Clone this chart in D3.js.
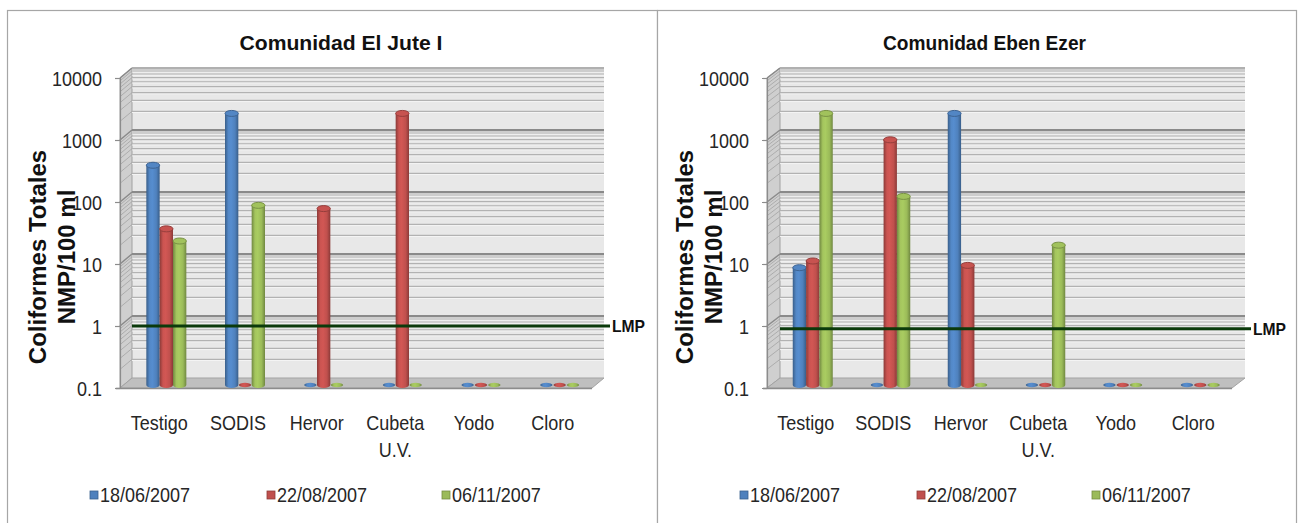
<!DOCTYPE html>
<html>
<head>
<meta charset="utf-8">
<script src="https://cdn.jsdelivr.net/npm/d3@7/dist/d3.min.js"></script>
<style>
  html, body { margin: 0; padding: 0; background: #fff; }
  svg { display: block; font-family: "Liberation Sans", Arial, sans-serif; }
</style>
</head>
<body>
<svg id="chart" width="1300" height="523"></svg>
<script>
// Treatment categories along the x axis
const categories = ["Testigo", "SODIS", "Hervor", "Cubeta U.V.", "Yodo", "Cloro"];
// Sampling dates (series)
const seriesNames = ["18/06/2007", "22/08/2007", "06/11/2007"];
// Total coliforms, NMP/100 ml — Comunidad El Jute I (0 = not detected)
const juteJun = [350, 2400, 0, 0, 0, 0];
const juteAug = [33, 0, 70, 2400, 0, 0];
const juteNov = [21, 79, 0, 0, 0, 0];
// Total coliforms, NMP/100 ml — Comunidad Eben Ezer
const ebenJun = [7.8, 0, 2400, 0, 0, 0];
const ebenAug = [10, 900, 8.5, 0, 0, 0];
const ebenNov = [2400, 110, 0, 18, 0, 0];
// Log axis ticks
const yTicks = [0.1, 1, 10, 100, 1000, 10000];
// Maximum permitted limit line per community
const lmpValues = [1, 0.9];
const chartTitles = ["Comunidad El Jute I", "Comunidad Eben Ezer"];

const seriesColors = ["#4f81bd", "#c0504d", "#9bbb59"];

const svg = d3.select("#chart");
const defs = svg.append("defs");

// Cylinder shading gradients
seriesColors.forEach((c, i) => {
  const base = d3.color(c);
  const g = defs.append("linearGradient").attr("id", "cyl" + i)
    .attr("x1", 0).attr("x2", 1).attr("y1", 0).attr("y2", 0);
  g.append("stop").attr("offset", "0%").attr("stop-color", base.darker(0.9));
  g.append("stop").attr("offset", "25%").attr("stop-color", base.brighter(0.15));
  g.append("stop").attr("offset", "45%").attr("stop-color", base.brighter(0.25));
  g.append("stop").attr("offset", "75%").attr("stop-color", base);
  g.append("stop").attr("offset", "100%").attr("stop-color", base.darker(0.9));
});

const panels = [
  { x0: 7, x1: 657, fx: 120, w: 472, dx: 12, title: chartTitles[0], series: [juteJun, juteAug, juteNov], lmp: lmpValues[0] },
  { x0: 657, x1: 1296, fx: 767, w: 465, dx: 13, title: chartTitles[1], series: [ebenJun, ebenAug, ebenNov], lmp: lmpValues[1] }
];

const DY = -10;          // depth shift of the back wall
const BAR_DX = 7, BAR_DY = -3;   // depth position of the columns
const NARROW = 0.9;      // horizontal squeeze of the label font

panels.forEach((p) => {
  const g = svg.append("g");

  // panel frame
  g.append("rect").attr("x", p.x0 + 0.5).attr("y", 10.5)
    .attr("width", p.x1 - p.x0).attr("height", 530)
    .attr("fill", "#fff").attr("stroke", "#a6a6a6").attr("stroke-width", 1.2);

  const y = d3.scaleLog().domain([0.1, 10000]).range([388, 78]);
  const x = d3.scaleBand().domain(categories).range([p.fx, p.fx + p.w]);
  const xs = d3.scaleBand().domain(seriesNames).range([-20, 20]);

  const bx0 = p.fx + p.dx, bx1 = p.fx + p.w + p.dx;
  const yTop = y(10000), yBot = y(0.1);

  // back wall
  g.append("rect").attr("x", bx0).attr("y", yTop + DY)
    .attr("width", p.w).attr("height", yBot - yTop).attr("fill", "#e8e8e8");

  // side wall
  g.append("path")
    .attr("d", `M${p.fx},${yTop}L${bx0},${yTop + DY}L${bx0},${yBot + DY}L${p.fx},${yBot}Z`)
    .attr("fill", "#cfcfcf").attr("stroke", "#a0a0a0").attr("stroke-width", 1);

  // gridlines: minor (2..9) and major (decades)
  const minor = [];
  [0.1, 1, 10, 100, 1000].forEach(d => { for (let k = 2; k <= 9; k++) minor.push(d * k); });
  const grid = g.append("g");
  minor.forEach(v => {
    const yy = y(v);
    grid.append("line").attr("x1", bx0).attr("x2", bx1).attr("y1", yy + DY + 1.2).attr("y2", yy + DY + 1.2)
      .attr("stroke", "#f4f4f4").attr("stroke-width", 1);
    grid.append("line").attr("x1", bx0).attr("x2", bx1).attr("y1", yy + DY).attr("y2", yy + DY)
      .attr("stroke", "#b2b2b2").attr("stroke-width", 1.1);
    grid.append("line").attr("x1", p.fx).attr("x2", bx0).attr("y1", yy).attr("y2", yy + DY)
      .attr("stroke", "#a8a8a8").attr("stroke-width", 0.9);
  });
  yTicks.slice(1).forEach(v => {
    const yy = y(v);
    grid.append("rect").attr("x", bx0).attr("y", yy + DY).attr("width", p.w).attr("height", 4)
      .attr("fill", "#cdcdcd");
    grid.append("line").attr("x1", bx0).attr("x2", bx1).attr("y1", yy + DY).attr("y2", yy + DY)
      .attr("stroke", "#8a8a8a").attr("stroke-width", 2);
    grid.append("line").attr("x1", p.fx).attr("x2", bx0).attr("y1", yy).attr("y2", yy + DY)
      .attr("stroke", "#8a8a8a").attr("stroke-width", 1.5);
  });
  // wall top edge
  g.append("line").attr("x1", bx0).attr("x2", bx1).attr("y1", yTop + DY).attr("y2", yTop + DY)
    .attr("stroke", "#bdbdbd").attr("stroke-width", 1.5);

  // floor
  g.append("path")
    .attr("d", `M${p.fx},${yBot}L${p.fx + p.w},${yBot}L${bx1},${yBot + DY}L${bx0},${yBot + DY}Z`)
    .attr("fill", "#bfbfbf").attr("stroke", "#a3a3a3").attr("stroke-width", 1);
  g.append("line").attr("x1", p.fx - 4).attr("x2", p.fx + p.w).attr("y1", yBot + 0.5).attr("y2", yBot + 0.5)
    .attr("stroke", "#8c8c8c").attr("stroke-width", 1.5);

  // y axis
  const yAxis = d3.axisLeft(y).tickValues(yTicks).tickFormat(d3.format("~g"))
    .tickSize(5).tickPadding(15);
  const ya = g.append("g").attr("transform", `translate(${p.fx},0)`).call(yAxis);
  ya.select(".domain").attr("stroke", "#8c8c8c").attr("stroke-width", 1.2);
  ya.selectAll(".tick line").attr("stroke", "#8c8c8c").attr("stroke-width", 1.2);
  ya.selectAll(".tick text").attr("font-size", 20).attr("fill", "#262626")
    .attr("font-family", "'Liberation Sans', Arial, sans-serif")
    .attr("transform", `scale(${NARROW},1)`)
    .attr("dy", "0.36em");

  // x axis with wrapped category labels
  const xAxis = d3.axisBottom(x).tickSize(0).tickPadding(29);
  const xa = g.append("g").attr("transform", `translate(0,${yBot})`).call(xAxis);
  xa.select(".domain").remove();
  xa.selectAll(".tick text").attr("font-size", 20).attr("fill", "#262626")
    .attr("font-family", "'Liberation Sans', Arial, sans-serif")
    .attr("transform", `scale(${NARROW},1)`)
    .each(function (d) {
      const words = d.split(" ");
      const t = d3.select(this).text(null);
      words.forEach((wd, i) => {
        t.append("tspan").attr("x", 0).attr("dy", i === 0 ? "0.64em" : "1.35em").text(wd);
      });
    });

  // columns
  const bw = xs.bandwidth();
  const ry = 3;
  p.series.forEach((vals, si) => {
    const col = d3.color(seriesColors[si]);
    vals.forEach((v, ci) => {
      const cx = x(categories[ci]) + x.bandwidth() / 2 + BAR_DX + xs(seriesNames[si]) + bw / 2;
      const ybase = y(0.1) + BAR_DY;
      if (v > 0.1) {
        const ytop = y(v) + BAR_DY;
        g.append("path")
          .attr("d", `M${cx - bw / 2},${ytop}L${cx - bw / 2},${ybase}A${bw / 2},${ry} 0 0 0 ${cx + bw / 2},${ybase}L${cx + bw / 2},${ytop}Z`)
          .attr("fill", `url(#cyl${si})`);
        g.append("ellipse").attr("cx", cx).attr("cy", ytop).attr("rx", bw / 2).attr("ry", ry)
          .attr("fill", col.brighter(0.1)).attr("stroke", col.darker(0.7)).attr("stroke-width", 1);
      } else {
        g.append("ellipse").attr("cx", cx).attr("cy", ybase).attr("rx", bw / 2 - 0.5).attr("ry", 2.2)
          .attr("fill", `url(#cyl${si})`);
      }
    });
  });

  // LMP reference line
  const yl = y(p.lmp);
  g.append("line").attr("x1", bx0).attr("x2", bx1 + 6).attr("y1", yl).attr("y2", yl)
    .attr("stroke", "#0b3a0b").attr("stroke-width", 3);
  g.append("text").attr("x", bx1 + 8).attr("y", yl).attr("dy", "0.36em")
    .attr("font-size", 17).attr("font-weight", "bold").attr("fill", "#111")
    .attr("textLength", 33).attr("lengthAdjust", "spacingAndGlyphs").text("LMP");

  // title
  g.append("text").attr("x", p.fx + p.w / 2 - 15).attr("y", 50).attr("text-anchor", "middle")
    .attr("font-size", 20).attr("font-weight", "bold").attr("fill", "#111")
    .attr("textLength", 203).attr("lengthAdjust", "spacingAndGlyphs").text(p.title);

  // y axis title
  const cyT = 257;
  g.append("text").attr("transform", `translate(${p.fx - 74},${cyT}) rotate(-90)`)
    .attr("text-anchor", "middle").attr("font-size", 24).attr("font-weight", "bold").attr("fill", "#111")
    .attr("font-family", "'Liberation Sans', Arial, sans-serif")
    .text("Coliformes Totales");
  g.append("text").attr("transform", `translate(${p.fx - 45},${cyT}) rotate(-90)`)
    .attr("text-anchor", "middle").attr("font-size", 24).attr("font-weight", "bold").attr("fill", "#111")
    .attr("font-family", "'Liberation Sans', Arial, sans-serif")
    .text("NMP/100 ml");

  // legend
  const legX = [83, 260, 435];
  seriesNames.forEach((s, i) => {
    const lx = p.x0 + legX[i];
    g.append("rect").attr("x", lx).attr("y", 491).attr("width", 8).attr("height", 8)
      .attr("fill", seriesColors[i]).attr("stroke", d3.color(seriesColors[i]).darker(0.8)).attr("stroke-width", 0.8);
    g.append("text").attr("transform", `translate(${lx + 10},502) scale(${NARROW},1)`)
      .attr("font-size", 20).attr("fill", "#262626")
      .text(s);
  });
});
</script>
</body>
</html>
